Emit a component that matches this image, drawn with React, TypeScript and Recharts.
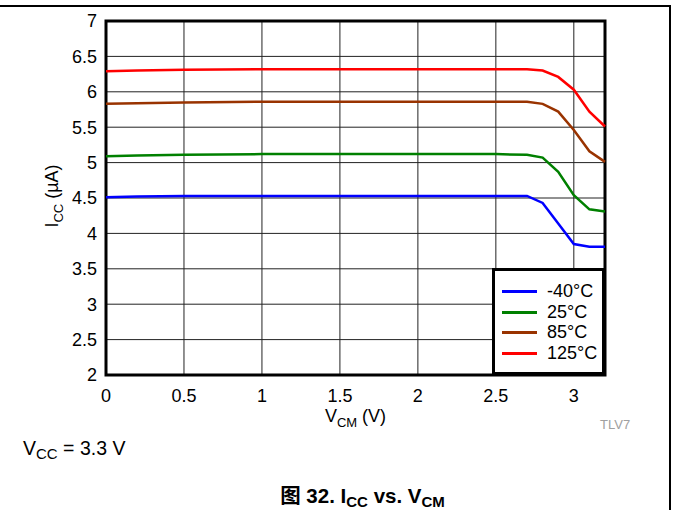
import {
    LineChart,
    Line,
    XAxis,
    YAxis,
    CartesianGrid,
    ReferenceArea,
    Legend,
} from "recharts"

const FONT = "'Liberation Sans', Arial, 'Noto Sans CJK SC', sans-serif"

// V_CM (V)
const vcm = [0, 0.2, 0.5, 1, 1.5, 2, 2.5, 2.7, 2.8, 2.9, 3.0, 3.1, 3.2]
// I_CC (uA) per temperature
const iccM40 = [4.51, 4.52, 4.53, 4.53, 4.53, 4.53, 4.53, 4.53, 4.43, 4.14, 3.85, 3.81, 3.81]
const icc25 = [5.09, 5.1, 5.11, 5.12, 5.12, 5.12, 5.12, 5.11, 5.07, 4.87, 4.54, 4.34, 4.31]
const icc85 = [5.83, 5.84, 5.85, 5.86, 5.86, 5.86, 5.86, 5.86, 5.83, 5.72, 5.46, 5.16, 5.01]
const icc125 = [6.29, 6.3, 6.31, 6.32, 6.32, 6.32, 6.32, 6.32, 6.3, 6.21, 6.03, 5.72, 5.51]

const xTicks = [0, 0.5, 1, 1.5, 2, 2.5, 3]
const yTicks = [2, 2.5, 3, 3.5, 4, 4.5, 5, 5.5, 6, 6.5, 7]

const series = [
    { key: "m40", name: "-40°C", color: "#0000ff" },
    { key: "t25", name: "25°C", color: "#008000" },
    { key: "t85", name: "85°C", color: "#993300" },
    { key: "t125", name: "125°C", color: "#ff0000" },
]

const data = vcm.map((x, i) => ({
    x,
    m40: iccM40[i],
    t25: icc25[i],
    t85: icc85[i],
    t125: icc125[i],
}))

// legend keeps the series order (recharts would sort by name)
function LegendBox() {
    return (
        <div
            style={{
                boxSizing: "border-box",
                width: 113,
                height: 107,
                border: "3px solid #000",
                background: "#fff",
                paddingTop: 10,
                fontFamily: FONT,
            }}
        >
            {series.map((s) => (
                <div
                    key={s.key}
                    style={{ display: "flex", alignItems: "center", height: 20.7 }}
                >
                    <div
                        style={{
                            width: 35,
                            height: 3,
                            background: s.color,
                            marginLeft: 7,
                            marginRight: 10,
                        }}
                    />
                    <span style={{ fontSize: 18, color: "#000" }}>{s.name}</span>
                </div>
            ))}
        </div>
    )
}

const sub = (size: number, shift: number) => ({
    fontSize: size,
    verticalAlign: "baseline",
    position: "relative" as const,
    top: shift,
    lineHeight: 0,
})

export default function App() {
    return (
        <div
            style={{
                position: "absolute",
                left: 0,
                top: 0,
                width: 673,
                height: 510,
                background: "#fff",
                fontFamily: FONT,
                overflow: "hidden",
            }}
        >
            <div style={{ position: "absolute", left: 0, top: 5, width: 671, height: 2, background: "#000" }} />
            <div style={{ position: "absolute", left: 669, top: 5, width: 2, height: 505, background: "#000" }} />

            <LineChart
                width={673}
                height={510}
                data={data}
                margin={{ top: 21, right: 68, bottom: 105, left: 46 }}
            >
                <CartesianGrid stroke="#222" strokeWidth={1} verticalValues={[0.5, 1, 1.5, 2, 2.5, 3]} />
                <XAxis
                    type="number"
                    dataKey="x"
                    domain={[0, 3.2]}
                    ticks={xTicks}
                    height={30}
                    axisLine={false}
                    tickLine={false}
                    tickSize={0}
                    tickMargin={14}
                    tick={{ fill: "#000", fontSize: 18, fontFamily: FONT }}
                    label={{
                        content: ({ viewBox }: any) => (
                            <text
                                x={viewBox.x + viewBox.width / 2}
                                y={422}
                                textAnchor="middle"
                                fontSize={18}
                                fontFamily={FONT}
                                fill="#000"
                            >
                                V<tspan dy={5} fontSize={13}>CM</tspan>
                                <tspan dy={-5}> (V)</tspan>
                            </text>
                        ),
                    }}
                />
                <YAxis
                    type="number"
                    domain={[2, 7]}
                    ticks={yTicks}
                    width={60}
                    axisLine={false}
                    tickLine={false}
                    tickSize={0}
                    tickMargin={9}
                    tick={{ fill: "#000", fontSize: 18, fontFamily: FONT }}
                    label={{
                        content: () => (
                            <text
                                x={0}
                                y={0}
                                transform="translate(58 196) rotate(-90)"
                                textAnchor="middle"
                                fontSize={18}
                                fontFamily={FONT}
                                fill="#000"
                            >
                                I<tspan dy={5} fontSize={13}>CC</tspan>
                                <tspan dy={-5}> (µA)</tspan>
                            </text>
                        ),
                    }}
                />
                {series.map((s) => (
                    <Line
                        key={s.key}
                        type="linear"
                        dataKey={s.key}
                        name={s.name}
                        stroke={s.color}
                        strokeWidth={2.5}
                        dot={false}
                        isAnimationActive={false}
                    />
                ))}
                <ReferenceArea
                    x1={0}
                    x2={3.2}
                    y1={2}
                    y2={7}
                    fill="none"
                    stroke="#000"
                    strokeWidth={3}
                    ifOverflow="visible"
                />
                <Legend
                    layout="vertical"
                    align="center"
                    verticalAlign="middle"
                    content={<LegendBox />}
                    wrapperStyle={{ position: "absolute", left: 492, top: 268, width: 113, height: 107 }}
                />
            </LineChart>

            <div style={{ position: "absolute", left: 600, top: 417, fontSize: 13, lineHeight: "15px", color: "#a0a0a0" }}>TLV7</div>
            <div style={{ position: "absolute", left: 23, top: 437, fontSize: 19.5, lineHeight: "22px", color: "#000" }}>
                V<span style={sub(15, 4)}>CC</span> = 3.3 V
            </div>
            <div
                style={{
                    position: "absolute",
                    left: 0,
                    width: 725,
                    top: 486,
                    textAlign: "center",
                    fontSize: 20.5,
                    lineHeight: "20px",
                    fontWeight: "bold",
                    color: "#000",
                }}
            >
                图 32. I<span style={sub(15, 4)}>CC</span> vs. V<span style={sub(15, 4)}>CM</span>
            </div>
        </div>
    )
}
